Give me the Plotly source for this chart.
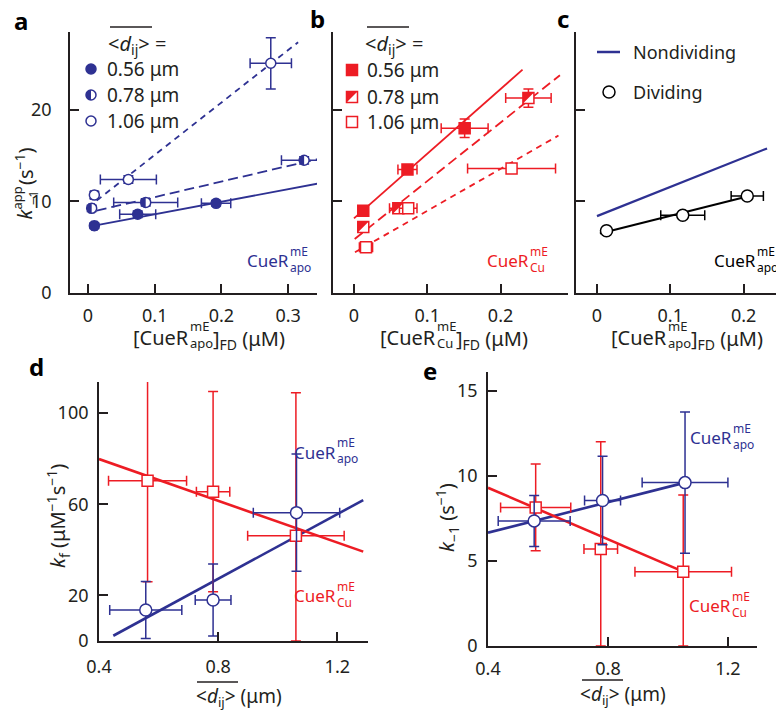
import plotly.graph_objects as go

W, H = 776, 713
BLUE = "#2E3192"
RED = "#ED1C24"
AX = "#231F20"
FONT = "Noto Sans"

# ---------------- data ----------------
# panel a : k_-1^app vs [CueR apo]_FD, three mean distances
a_x_056 = [0.0095, 0.0745, 0.192]
a_y_056 = [7.36, 8.6, 9.8]
a_xe_056 = [0.004, 0.027, 0.022]
a_ye_056 = [0.3, 0.35, 0.3]
a_x_078 = [0.0055, 0.0865, 0.324]
a_y_078 = [9.25, 9.9, 14.5]
a_xe_078 = [0.004, 0.048, 0.034]
a_ye_078 = [0.35, 0.4, 0.4]
a_x_106 = [0.0095, 0.0605, 0.274]
a_y_106 = [10.7, 12.4, 25.1]
a_xe_106 = [0.005, 0.042, 0.031]
a_ye_106 = [0.4, 0.4, 2.8]
a_fitx_056 = [0.0095, 0.348]
a_fity_056 = [7.36, 12.0]
a_fitx_078 = [0.013, 0.36]
a_fity_078 = [9.0, 14.9]
a_fitx_106 = [0.013, 0.315]
a_fity_106 = [10.1, 27.4]

# panel b : k_-1^app vs [CueR Cu]_FD
b_x_056 = [0.0127, 0.073, 0.151]
b_y_056 = [9.0, 13.5, 18.0]
b_xe_056 = [0.004, 0.013, 0.032]
b_ye_056 = [0.3, 0.4, 1.0]
b_x_078 = [0.0127, 0.0605, 0.238]
b_y_078 = [7.2, 9.25, 21.3]
b_xe_078 = [0.004, 0.012, 0.031]
b_ye_078 = [0.3, 0.4, 1.0]
b_x_106 = [0.0164, 0.074, 0.215]
b_y_106 = [5.0, 9.25, 13.6]
b_xe_106 = [0.009, 0.012, 0.06]
b_ye_106 = [0.4, 0.4, 0.3]
b_fitx_056 = [0.0, 0.23]
b_fity_056 = [8.15, 24.4]
b_fitx_078 = [0.001, 0.281]
b_fity_078 = [5.9, 23.8]
b_fitx_106 = [0.0014, 0.279]
b_fity_106 = [4.45, 17.2]

# panel c : dividing vs nondividing
c_x_div = [0.013, 0.117, 0.205]
c_y_div = [6.8, 8.5, 10.6]
c_xe_div = [0.005, 0.03, 0.022]
c_ye_div = [0.3, 0.3, 0.3]
c_fitx_div = [0.004, 0.205]
c_fity_div = [6.5, 10.55]
c_fitx_nondiv = [0.0, 0.232]
c_fity_nondiv = [8.4, 15.8]

# panel d : k_f vs <d_ij>
d_x_apo = [0.557, 0.783, 1.063]
d_y_apo = [13.6, 18.0, 56.3]
d_xe_apo = [0.121, 0.06, 0.145]
d_ye_apo = [12.5, 15.8, 25.7]
d_x_cu = [0.563, 0.783, 1.061]
d_y_cu = [70.3, 65.5, 46.2]
d_xe_cu = [0.131, 0.056, 0.162]
d_ye_cu_plus = [44.5, 43.9, 62.7]
d_ye_cu_minus = [44.3, 43.9, 46.2]
d_fitx_apo = [0.448, 1.287]
d_fity_apo = [2.3, 61.8]
d_fitx_cu = [0.4, 1.287]
d_fity_cu = [79.8, 39.2]

# panel e : k_-1 vs <d_ij>
e_x_apo = [0.554, 0.782, 1.057]
e_y_apo = [7.35, 8.55, 9.6]
e_xe_apo = [0.12, 0.06, 0.143]
e_ye_apo = [1.5, 2.6, 4.15]
e_x_cu = [0.559, 0.776, 1.051]
e_y_cu = [8.14, 5.7, 4.37]
e_xe_cu = [0.117, 0.056, 0.161]
e_ye_cu_plus = [2.55, 6.3, 4.5]
e_ye_cu_minus = [2.55, 5.7, 4.37]
e_fitx_apo = [0.4, 1.057]
e_fity_apo = [6.66, 9.6]
e_fitx_cu = [0.4, 1.051]
e_fity_cu = [9.3, 4.37]

legend_dist = ["0.56 μm", "0.78 μm", "1.06 μm"]

# ---------------- figure ----------------
fig = go.Figure()


def line(xs, ys, xa, ya, color, width=1.8, dash="solid"):
    fig.add_trace(go.Scatter(x=xs, y=ys, xaxis=xa, yaxis=ya, mode="lines",
                             line=dict(color=color, width=width, dash=dash),
                             hoverinfo="skip", showlegend=False))


def pts(xs, ys, xe, ye, xa, ya, color, symbol, size, fill, ye_minus=None, lw=1.5):
    ey = dict(type="data", array=ye, color=color, thickness=1.5, width=5)
    if ye_minus is not None:
        ey.update(symmetric=False, arrayminus=ye_minus)
    fig.add_trace(go.Scatter(
        x=xs, y=ys, xaxis=xa, yaxis=ya, mode="markers",
        marker=dict(symbol=symbol, size=size, color=fill, line=dict(color=color, width=lw)),
        error_x=dict(type="data", array=xe, color=color, thickness=1.5, width=5),
        error_y=ey, showlegend=False, cliponaxis=False))


# panel a
line(a_fitx_056, a_fity_056, "x", "y", BLUE, 1.8, "solid")
line(a_fitx_078, a_fity_078, "x", "y", BLUE, 1.8, "10px,5px")
line(a_fitx_106, a_fity_106, "x", "y", BLUE, 1.8, "6px,5px")
pts(a_x_056, a_y_056, a_xe_056, a_ye_056, "x", "y", BLUE, "circle", 10, BLUE)
pts(a_x_078, a_y_078, a_xe_078, a_ye_078, "x", "y", BLUE, "circle", 10, "white")
pts(a_x_106, a_y_106, a_xe_106, a_ye_106, "x", "y", BLUE, "circle", 10, "white")

# panel b
line(b_fitx_056, b_fity_056, "x2", "y2", RED, 1.8, "solid")
line(b_fitx_078, b_fity_078, "x2", "y2", RED, 1.8, "10px,5px")
line(b_fitx_106, b_fity_106, "x2", "y2", RED, 1.8, "6px,5px")
pts(b_x_056, b_y_056, b_xe_056, b_ye_056, "x2", "y2", RED, "square", 11, RED)
pts(b_x_078, b_y_078, b_xe_078, b_ye_078, "x2", "y2", RED, "square", 11, "white")
pts(b_x_106, b_y_106, b_xe_106, b_ye_106, "x2", "y2", RED, "square", 11, "white")

# panel c
line(c_fitx_nondiv, c_fity_nondiv, "x3", "y3", BLUE, 2.2)
line(c_fitx_div, c_fity_div, "x3", "y3", "black", 2.2)
pts(c_x_div, c_y_div, c_xe_div, c_ye_div, "x3", "y3", "black", "circle", 12, "white")

# panel d
line(d_fitx_apo, d_fity_apo, "x4", "y4", BLUE, 2.6)
line(d_fitx_cu, d_fity_cu, "x4", "y4", RED, 2.6)
pts(d_x_cu, d_y_cu, d_xe_cu, d_ye_cu_plus, "x4", "y4", RED, "square", 11, "white", d_ye_cu_minus)
pts(d_x_apo, d_y_apo, d_xe_apo, d_ye_apo, "x4", "y4", BLUE, "circle", 12, "white")

# panel e
line(e_fitx_apo, e_fity_apo, "x5", "y5", BLUE, 2.6)
line(e_fitx_cu, e_fity_cu, "x5", "y5", RED, 2.6)
pts(e_x_cu, e_y_cu, e_xe_cu, e_ye_cu_plus, "x5", "y5", RED, "square", 11, "white", e_ye_cu_minus)
pts(e_x_apo, e_y_apo, e_xe_apo, e_ye_apo, "x5", "y5", BLUE, "circle", 12, "white")

# ---------------- helpers for decorations ----------------
shapes = []
anns = []


def px(x):
    return x / W


def py(y):
    return 1 - y / H


HALF_CIRC = "M0,-5C-2.76,-5 -5,-2.76 -5,0C-5,2.76 -2.76,5 0,5Z"
HALF_SQ = "M-5.5,5.5L5.5,5.5L-5.5,-5.5Z"

# half-filled data markers
for xv, yv in zip(a_x_078, a_y_078):
    shapes.append(dict(type="path", xref="x", yref="y", xsizemode="pixel", ysizemode="pixel",
                       xanchor=xv, yanchor=yv, path=HALF_CIRC, fillcolor=BLUE,
                       line=dict(width=0), layer="above"))
for xv, yv in zip(b_x_078, b_y_078):
    shapes.append(dict(type="path", xref="x2", yref="y2", xsizemode="pixel", ysizemode="pixel",
                       xanchor=xv, yanchor=yv, path=HALF_SQ, fillcolor=RED,
                       line=dict(width=0), layer="above"))


def ann(text, x, y, size=19, color=AX, xanchor="center", yanchor="middle", bold=False,
        angle=0, align="center"):
    if bold:
        text = "<b>" + text + "</b>"
    anns.append(dict(text=text, x=px(x), y=py(y), xref="paper", yref="paper",
                     xanchor=xanchor, yanchor=yanchor, showarrow=False, textangle=angle,
                     align=align, borderpad=0,
                     font=dict(family=FONT, size=size, color=color)))


def stacked(prefix, sup, sub, xj, yc, color, size=17, ssize=12, dy=-1):
    ann(prefix, xj, yc, size, color, xanchor="right")
    ann(sup + "<br>" + sub, xj - 1, yc + dy, ssize, color, xanchor="left", align="left")


def overline(x0, x1, y):
    shapes.append(dict(type="line", xref="paper", yref="paper", x0=px(x0), x1=px(x1),
                       y0=py(y), y1=py(y), line=dict(color=AX, width=1.3)))


def marker_shape(kind, x, y, color, fill, r=5):
    shapes.append(dict(type=kind, xref="paper", yref="paper", xsizemode="pixel",
                       ysizemode="pixel", xanchor=px(x), yanchor=py(y), x0=-r, x1=r,
                       y0=-r, y1=r, fillcolor=fill, line=dict(color=color, width=1.5)))


# panel letters
ann("a", 21, 20, 24, "black", bold=True)
ann("b", 317, 18, 24, "black", bold=True)
ann("c", 563, 18, 24, "black", bold=True)
ann("d", 36, 367, 24, "black", bold=True)
ann("e", 430, 370, 24, "black", bold=True)

# legend a
ann("&lt;<i>d</i><sub>ij</sub>&gt; =", 107, 44, 20, AX, xanchor="left")
overline(110, 152, 27)
legend_rows_y = [69, 95, 121]
marker_shape("circle", 91, legend_rows_y[0], BLUE, BLUE)
marker_shape("circle", 91, legend_rows_y[1], BLUE, "white")
shapes.append(dict(type="path", xref="paper", yref="paper", xsizemode="pixel", ysizemode="pixel",
                   xanchor=px(91), yanchor=py(legend_rows_y[1]), path=HALF_CIRC,
                   fillcolor=BLUE, line=dict(width=0)))
marker_shape("circle", 91, legend_rows_y[2], BLUE, "white")
for lab, yy in zip(legend_dist, legend_rows_y):
    ann(lab, 106, yy, 19, AX, xanchor="left")

# legend b
ann("&lt;<i>d</i><sub>ij</sub>&gt; =", 364, 44, 20, AX, xanchor="left")
overline(367, 409, 27)
legend_rows_yb = [70, 97, 122]
marker_shape("rect", 352, legend_rows_yb[0], RED, RED, 5.5)
marker_shape("rect", 352, legend_rows_yb[1], RED, "white", 5.5)
shapes.append(dict(type="path", xref="paper", yref="paper", xsizemode="pixel", ysizemode="pixel",
                   xanchor=px(352), yanchor=py(legend_rows_yb[1]), path=HALF_SQ,
                   fillcolor=RED, line=dict(width=0)))
marker_shape("rect", 352, legend_rows_yb[2], RED, "white", 5.5)
for lab, yy in zip(legend_dist, legend_rows_yb):
    ann(lab, 366, yy, 19, AX, xanchor="left")

# legend c
shapes.append(dict(type="line", xref="paper", yref="paper", x0=px(597), x1=px(620),
                   y0=py(52), y1=py(52), line=dict(color=BLUE, width=2.5)))
ann("Nondividing", 632, 52, 18, AX, xanchor="left")
marker_shape("circle", 609, 92, "black", "white", 6)
ann("Dividing", 632, 92, 18, AX, xanchor="left")

# in-panel species labels
stacked("CueR", "mE", "apo", 290, 260, BLUE)
stacked("CueR", "mE", "Cu", 530, 260, RED)
stacked("CueR", "mE", "apo", 757, 260, "black")
stacked("CueR", "mE", "apo", 337, 452, BLUE)
stacked("CueR", "mE", "Cu", 337, 595, RED)
stacked("CueR", "mE", "apo", 733, 437, BLUE)
stacked("CueR", "mE", "Cu", 732, 605, RED)

# x titles top row
for xj, xr, sub in [(190, 212, "apo"), (437, 455, "Cu"), (668, 690, "apo")]:
    ann("[CueR", xj, 337, 20, AX, xanchor="right")
    ann("mE<br>" + sub, xj - 1, 335, 13, AX, xanchor="left", align="left")
    ann("]<sub>FD</sub> (μM)", xr, 339, 20, AX, xanchor="left")

# y title a (rotated, stacked super/sub)
ann("<i>k</i>", 24, 221, 20, AX, yanchor="bottom", angle=-90)
ann("app<br>−1", 25, 210, 13, AX, yanchor="bottom", angle=-90)
ann("(s<sup>−1</sup>)", 24, 186, 20, AX, yanchor="bottom", angle=-90)

# titles d, e
ann("<i>k</i><sub>f</sub> (μM<sup>−1</sup>s<sup>−1</sup>)", 58, 516, 20, AX, angle=-90)
ann("<i>k</i><sub>−1</sub> (s<sup>−1</sup>)", 447, 517, 20, AX, angle=-90)
ann("&lt;<i>d</i><sub>ij</sub>&gt; (μm)", 239, 697, 19, AX)
overline(197, 238, 682)
ann("&lt;<i>d</i><sub>ij</sub>&gt; (μm)", 623, 695, 19, AX)
overline(582, 623, 680)


def axis(domain, rng, tickvals, anchor, labels=True, standoff=5):
    return dict(domain=domain, range=rng, tickvals=tickvals, anchor=anchor,
                showline=True, linecolor=AX, linewidth=1.8, ticks="inside", ticklen=9,
                tickwidth=1.8, tickcolor=AX, showgrid=False, zeroline=False,
                showticklabels=labels, ticklabelstandoff=standoff, automargin=False,
                tickfont=dict(family=FONT, size=18, color=AX), fixedrange=True)


top = [1 - 293 / H, 1 - 32 / H]
fig.update_layout(
    template="none",
    width=W, height=H, autosize=False, margin=dict(l=0, r=0, t=0, b=0, autoexpand=False),
    paper_bgcolor="white", plot_bgcolor="white", showlegend=False,
    xaxis=axis([70 / W, 317 / W], [-0.027, 0.3433], [0, 0.1, 0.2, 0.3], "y"),
    yaxis=axis(top, [0, 28.52], [0, 10, 20], "x", standoff=13),
    xaxis2=axis([333 / W, 568 / W], [-0.0286, 0.292], [0, 0.1, 0.2], "y2"),
    yaxis2=axis(top, [0, 28.52], [0, 10, 20], "x2", labels=False),
    xaxis3=axis([576 / W, 1.0], [-0.0286, 0.2442], [0, 0.1, 0.2], "y3"),
    yaxis3=axis(top, [0, 28.52], [0, 10, 20], "x3", labels=False),
    xaxis4=axis([99 / W, 368 / W], [0.4, 1.303], [0.4, 0.8, 1.2], "y4", standoff=8),
    yaxis4=axis([1 - 641 / H, 1 - 382 / H], [0, 113.6], [0, 20, 60, 100], "x4", standoff=5),
    xaxis5=axis([488 / W, 757 / W], [0.4, 1.297], [0.4, 0.8, 1.2], "y5", standoff=5),
    yaxis5=axis([1 - 646 / H, 1 - 372 / H], [0, 16.1], [0, 5, 10, 15], "x5", standoff=5),
    shapes=shapes, annotations=anns,
)

fig.write_html("out.html", config={"displayModeBar": False},
               post_script="document.body.style.margin='0';document.body.style.overflow='hidden';")
